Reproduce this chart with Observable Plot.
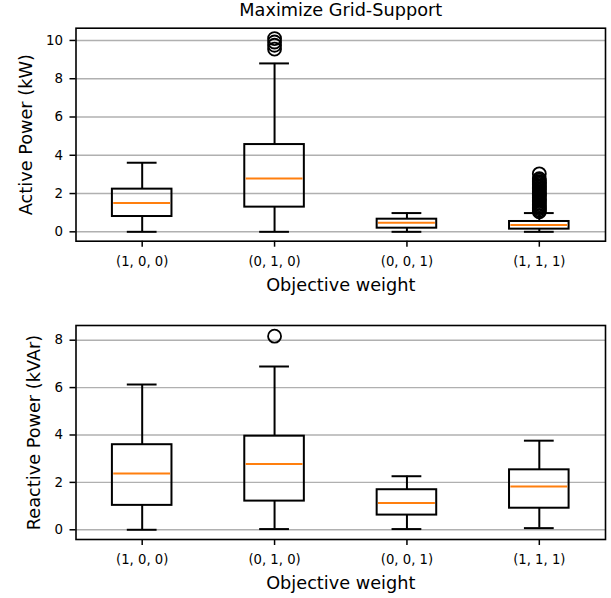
<!DOCTYPE html>
<html>
<head>
<meta charset="utf-8">
<script src="https://cdn.jsdelivr.net/npm/d3@7"></script>
<script src="https://cdn.jsdelivr.net/npm/@observablehq/plot@0.6"></script>
<style>
  html, body { margin: 0; padding: 0; background: #fff; }
  #chart svg { display: block; }
</style>
</head>
<body>
<div id="chart"></div>
<script>
// Categories (objective weights)
const categories = ["(1, 0, 0)", "(0, 1, 0)", "(0, 0, 1)", "(1, 1, 1)"];

// Active power (kW) box statistics
const activeLow    = [0.00, 0.00, 0.00, 0.00];
const activeQ1     = [0.80, 1.29, 0.19, 0.14];
const activeMedian = [1.50, 2.79, 0.47, 0.35];
const activeQ3     = [2.23, 4.56, 0.66, 0.54];
const activeHigh   = [3.61, 8.80, 0.98, 0.98];
const activeOutliers = [
  [],
  [9.55, 9.75, 9.92, 10.10],
  [],
  [1.05, 1.12, 1.20, 1.28, 1.35, 1.42, 1.50, 1.58, 1.65, 1.72, 1.80, 1.88, 1.95,
   2.02, 2.10, 2.18, 2.25, 2.32, 2.40, 2.48, 2.55, 2.62, 2.70, 2.78, 3.03]
];

// Reactive power (kVAr) box statistics
const reactiveLow    = [0.00, 0.03, 0.03, 0.07];
const reactiveQ1     = [1.03, 1.21, 0.62, 0.91];
const reactiveMedian = [2.38, 2.78, 1.13, 1.83];
const reactiveQ3     = [3.59, 3.95, 1.69, 2.53];
const reactiveHigh   = [6.13, 6.89, 2.26, 3.76];
const reactiveOutliers = [[], [8.17], [], []];

const activeTicks = [0, 2, 4, 6, 8, 10];
const reactiveTicks = [0, 2, 4, 6, 8];

const BOX_W = 0.45, CAP_W = 0.225;

function panel(cfg) {
  const boxes = categories.map((c, i) => ({
    pos: i + 1, low: cfg.low[i], q1: cfg.q1[i], med: cfg.med[i], q3: cfg.q3[i], high: cfg.high[i]
  }));
  const outs = cfg.outliers.flatMap((arr, i) => arr.map(v => ({pos: i + 1, v})));
  const marks = [
    Plot.gridY(cfg.ticks, {stroke: "#b0b0b0", strokeOpacity: 1, strokeWidth: 1.4}),
    // whiskers
    Plot.ruleX(boxes, {x: "pos", y1: "q3", y2: "high", stroke: "black", strokeWidth: 2}),
    Plot.ruleX(boxes, {x: "pos", y1: "low", y2: "q1", stroke: "black", strokeWidth: 2}),
    // caps
    Plot.ruleY(boxes, {y: "high", x1: d => d.pos - CAP_W / 2, x2: d => d.pos + CAP_W / 2, stroke: "black", strokeWidth: 2}),
    Plot.ruleY(boxes, {y: "low", x1: d => d.pos - CAP_W / 2, x2: d => d.pos + CAP_W / 2, stroke: "black", strokeWidth: 2}),
    // boxes
    Plot.rect(boxes, {x1: d => d.pos - BOX_W / 2, x2: d => d.pos + BOX_W / 2, y1: "q1", y2: "q3",
      fill: "none", stroke: "black", strokeWidth: 2}),
    // medians
    Plot.ruleY(boxes, {y: "med", x1: d => d.pos - BOX_W / 2 + 0.01, x2: d => d.pos + BOX_W / 2 - 0.01, stroke: "#ff7f0e", strokeWidth: 2}),
    // outliers
    Plot.dot(outs, {x: "pos", y: "v", r: 6.5, stroke: "black", strokeWidth: 1.8, fill: "none"}),
    Plot.frame({stroke: "black", strokeWidth: 1.6}),
    Plot.axisY({ticks: cfg.ticks, tickSize: 6, tickPadding: 7, fontSize: 13.4, label: null, strokeWidth: 1.5}),
    Plot.axisX({ticks: [1, 2, 3, 4], tickFormat: d => categories[d - 1], tickSize: 6, tickPadding: 9, fontSize: 13.2, label: null, strokeWidth: 1.5}),
    Plot.text([cfg.yLabel], {text: d => d, frameAnchor: "left", textAnchor: "middle", lineAnchor: "middle", rotate: -90, dx: cfg.yLabelDx, fontSize: 17.7, fill: "black"}),
    Plot.text(["Objective weight"], {text: d => d, frameAnchor: "bottom", textAnchor: "middle", lineAnchor: "middle", dy: 44, fontSize: 17.7, fill: "black"})
  ];
  if (cfg.title) {
    marks.push(Plot.text([cfg.title], {text: d => d, frameAnchor: "top", textAnchor: "middle", lineAnchor: "middle", dy: -17.7, fontSize: 17.7, fill: "black"}));
  }
  return Plot.plot({
    width: 611,
    height: cfg.height,
    marginLeft: 75.5,
    marginRight: 6,
    marginTop: cfg.marginTop,
    marginBottom: cfg.marginBottom,
    style: {fontFamily: "DejaVu Sans", color: "black", background: "white", overflow: "visible"},
    x: {domain: [0.5, 4.5], axis: null},
    y: {domain: cfg.yDomain, axis: null},
    marks
  });
}

const chart = document.getElementById("chart");
chart.appendChild(panel({
  low: activeLow, q1: activeQ1, med: activeMedian, q3: activeQ3, high: activeHigh, outliers: activeOutliers,
  ticks: activeTicks, yDomain: [-0.49, 10.64], yLabel: "Active Power (kW)", yLabelDx: -50,
  height: 298, marginTop: 27.7, marginBottom: 57.3, title: "Maximize Grid-Support"
}));
chart.appendChild(panel({
  low: reactiveLow, q1: reactiveQ1, med: reactiveMedian, q3: reactiveQ3, high: reactiveHigh, outliers: reactiveOutliers,
  ticks: reactiveTicks, yDomain: [-0.41, 8.62], yLabel: "Reactive Power (kVAr)", yLabelDx: -42,
  height: 300, marginTop: 27, marginBottom: 59
}));
</script>
</body>
</html>
